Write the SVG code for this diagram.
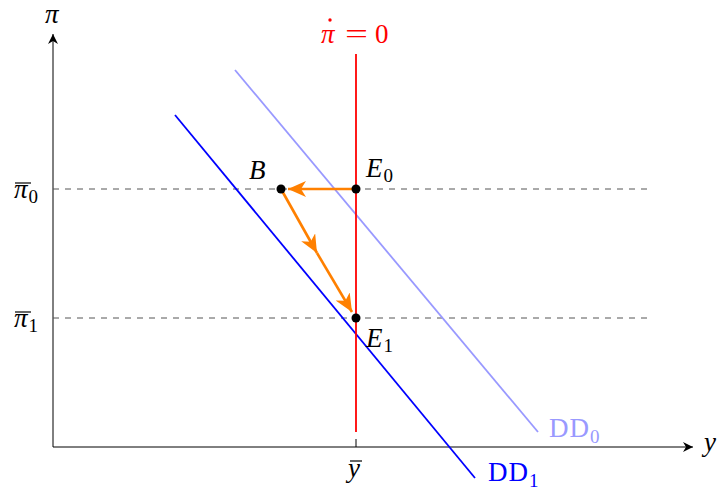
<svg xmlns="http://www.w3.org/2000/svg" width="717" height="490" viewBox="0 0 717 490">
<style>
.t{font-family:"Liberation Serif","Times New Roman",serif;font-size:27px}
.i{font-style:italic}
.s{font-size:19px;font-style:normal}
.ax{stroke:#000;stroke-width:1;fill:none}
.dash{stroke:#555;stroke-width:1;stroke-dasharray:6,6;fill:none}
.or{stroke:#ff8000;stroke-width:2.6;fill:none}
.bar{stroke:#000;stroke-width:1.2}
</style>
<defs>
<marker id="ah" markerWidth="12" markerHeight="10" refX="10" refY="5" orient="auto" markerUnits="userSpaceOnUse">
<path d="M0,0 L10,5 L0,10 L3,5 Z" fill="#000"/>
</marker>
<marker id="oa" markerWidth="20" markerHeight="16" refX="18" refY="8" orient="auto" markerUnits="userSpaceOnUse">
<path d="M0,0 L18,8 L0,16 L5,8 Z" fill="#ff8000"/>
</marker>
</defs>
<g id="axes">
<line class="ax" x1="53" y1="447" x2="53" y2="34" marker-end="url(#ah)"/>
<line class="ax" x1="53" y1="447" x2="693" y2="447" marker-end="url(#ah)"/>
<line class="ax" x1="356" y1="439" x2="356" y2="447"/>
</g>
<g id="connectors">
<line class="dash" x1="53" y1="189" x2="653" y2="189"/>
<line class="dash" x1="53" y1="318" x2="653" y2="318"/>
<line x1="235" y1="70" x2="538" y2="432" stroke="#9999ff" stroke-width="1.8"/>
<line x1="175" y1="115" x2="475" y2="478" stroke="#0000ff" stroke-width="1.8"/>
<line x1="356" y1="54" x2="356" y2="432" stroke="#ff0000" stroke-width="1.8"/>
<line class="or" x1="356" y1="189" x2="288" y2="189" marker-end="url(#oa)"/>
<line class="or" x1="281" y1="189" x2="317" y2="253" marker-end="url(#oa)"/>
<line class="or" x1="317" y1="253" x2="352" y2="312" marker-end="url(#oa)"/>
</g>
<g id="B"><circle cx="281" cy="189" r="4.5" fill="#000"/><text class="t i" x="249" y="179">B</text></g>
<g id="E0"><circle cx="356" cy="189" r="4.5" fill="#000"/><text class="t i" x="366" y="177">E<tspan class="s" dx="1" dy="5">0</tspan></text></g>
<g id="E1"><circle cx="356" cy="318" r="4.5" fill="#000"/><text class="t i" x="366" y="347">E<tspan class="s" dx="1" dy="5">1</tspan></text></g>
<g id="labels">
<text class="t i" x="45" y="23">π</text>
<text class="t i" x="704" y="451">y</text>
<text class="t i" x="321" y="43" fill="#ff0000">π</text>
<circle cx="330" cy="20" r="1.7" fill="#ff0000"/>
<text class="t" x="345" y="43" fill="#ff0000" textLength="23" lengthAdjust="spacingAndGlyphs">=</text>
<text class="t" x="375" y="43" fill="#ff0000">0</text>
<text class="t i" x="348" y="477">y</text>
<line class="bar" x1="350" y1="461" x2="362" y2="461"/>
<text class="t i" x="14" y="198">π<tspan class="s" dx="1" dy="5">0</tspan></text>
<line class="bar" x1="15" y1="183" x2="31" y2="183"/>
<text class="t i" x="14" y="327">π<tspan class="s" dx="1" dy="5">1</tspan></text>
<line class="bar" x1="15" y1="312" x2="31" y2="312"/>
<text class="t" x="549" y="437" fill="#9999ff" letter-spacing="1">DD<tspan class="s" dy="6">0</tspan></text>
<text class="t" x="488" y="481" fill="#0000ff" letter-spacing="1">DD<tspan class="s" dy="6">1</tspan></text>
</g>
</svg>
